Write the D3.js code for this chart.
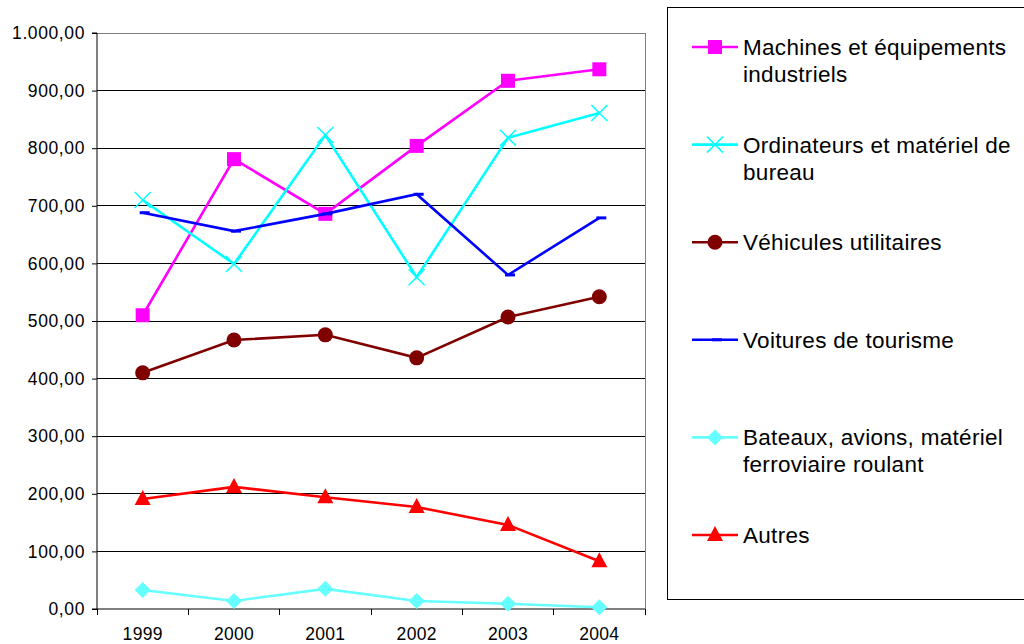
<!DOCTYPE html>
<html><head><meta charset="utf-8">
<script src="https://cdn.jsdelivr.net/npm/d3@7"></script>
<style>body{margin:0;background:#fff}svg{display:block;font-family:"Liberation Sans",Arial,sans-serif}</style>
</head><body><svg id="c" width="1024" height="644"></svg>
<script>
const years = ["1999","2000","2001","2002","2003","2004"];
const machines = [510, 781, 686, 804, 917, 937];
const ordinateurs = [710, 599, 823, 576, 818, 861];
const vehicules = [410, 467, 476, 436, 507, 542];
const voitures = [688, 656, 686, 720, 580, 679];
const bateaux = [33, 14, 35, 14, 9, 3];
const autres = [191, 212, 194, 177, 146, 83];
const yTicks = [0,100,200,300,400,500,600,700,800,900,1000];

const seriesNames = ["Machines et équipements|industriels","Ordinateurs et matériel de|bureau","Véhicules utilitaires","Voitures de tourisme","Bateaux, avions, matériel|ferroviaire roulant","Autres"];
const seriesVals = [machines, ordinateurs, vehicules, voitures, bateaux, autres];
const seriesColors = ["#FF00FF","#00FFFF","#800000","#0000FF","#66FFFF","#FF0000"];
const seriesMarkers = ["square","x","circle","dash","diamond","triangle"];

const svg = d3.select("#c");
const L=97, R=645, T=33, B=609;
const x = d3.scaleBand().domain(years).range([L,R]);
const y = d3.scaleLinear().domain([0,1000]).range([B,T]);
const fmt = v => d3.format(",.2f")(v).replace(/,/g,"#").replace(".",",").replace(/#/g,".");

// gridlines
svg.append("g").selectAll("line").data(yTicks.filter(d=>d>0)).join("line")
  .attr("x1",L).attr("x2",R).attr("y1",d=>y(d)).attr("y2",d=>y(d))
  .attr("stroke",d=>d===1000?"#808080":"#000").attr("stroke-width",1).attr("shape-rendering","crispEdges");
svg.append("line").attr("x1",R).attr("x2",R).attr("y1",T).attr("y2",B).attr("stroke","#808080").attr("shape-rendering","crispEdges");

// y axis
const ya = svg.append("g").attr("transform",`translate(${L},0)`)
  .call(d3.axisLeft(y).tickValues(yTicks).tickFormat(fmt).tickSize(5).tickPadding(7));
ya.select(".domain").attr("stroke","#000").attr("d",`M-5,${T}H0V${B}H-5`);
ya.selectAll("text").attr("font-size",17.5).attr("letter-spacing",0.6).attr("fill","#000").attr("font-family","Liberation Sans, Arial, sans-serif");
ya.selectAll(".tick line").attr("stroke","#000");

// x axis
const xa = svg.append("g").attr("transform",`translate(0,${B})`)
  .call(d3.axisBottom(x).tickSize(0).tickPadding(19));
xa.select(".domain").attr("stroke","#000").attr("d",`M${L},0H${R}`);
xa.selectAll("text").attr("font-size",17.5).attr("letter-spacing",0.3).attr("fill","#000").attr("font-family","Liberation Sans, Arial, sans-serif");
svg.append("g").selectAll("line").data(d3.range(years.length+1)).join("line")
  .attr("x1",i=>L+i*x.step()).attr("x2",i=>L+i*x.step()).attr("y1",B).attr("y2",B+6)
  .attr("stroke","#000").attr("shape-rendering","crispEdges");

function marker(g, type, color, cx, cy){
  if(type==="square") g.append("rect").attr("x",cx-7).attr("y",cy-7).attr("width",14).attr("height",14).attr("fill",color);
  else if(type==="x"){ g.append("path").attr("d",`M${cx-8},${cy-8}L${cx+8},${cy+8}M${cx-8},${cy+8}L${cx+8},${cy-8}`).attr("stroke",color).attr("stroke-width",1.5); }
  else if(type==="circle") g.append("circle").attr("cx",cx).attr("cy",cy).attr("r",7.5).attr("fill",color);
  else if(type==="dash") g.append("path").attr("d",`M${cx-3},${cy}H${cx+7}`).attr("stroke",color).attr("stroke-width",3);
  else if(type==="diamond") g.append("path").attr("d",`M${cx},${cy-8}L${cx+8},${cy}L${cx},${cy+8}L${cx-8},${cy}Z`).attr("fill",color);
  else if(type==="triangle") g.append("path").attr("d",`M${cx},${cy-9}L${cx+8},${cy+6}L${cx-8},${cy+6}Z`).attr("fill",color);
}

const line = d3.line().x((d,i)=>x(years[i])+x.bandwidth()/2).y(d=>y(d));
const plot = svg.append("g");
seriesVals.forEach((vals,s)=>{
  plot.append("path").attr("d",line(vals)).attr("fill","none").attr("stroke",seriesColors[s]).attr("stroke-width",2.6).attr("stroke-linejoin","miter");
  vals.forEach((v,i)=>marker(plot, seriesMarkers[s], seriesColors[s], x(years[i])+x.bandwidth()/2, y(v)));
});

// legend
svg.append("rect").attr("x",667.5).attr("y",7.5).attr("width",400).attr("height",592).attr("fill","none").attr("stroke","#000").attr("stroke-width",1);
const lg = svg.append("g");
seriesNames.forEach((name,s)=>{
  const cy = 47 + s*97.6;
  lg.append("line").attr("x1",692).attr("x2",738).attr("y1",cy).attr("y2",cy).attr("stroke",seriesColors[s]).attr("stroke-width",2.6);
  marker(lg, seriesMarkers[s], seriesColors[s], 715, cy);
  name.split("|").forEach((t,k)=>{
    lg.append("text").attr("x",743).attr("y",cy+8+k*27).attr("font-size",22.5).attr("fill","#000").attr("letter-spacing",0.3).text(t);
  });
});
</script></body></html>
